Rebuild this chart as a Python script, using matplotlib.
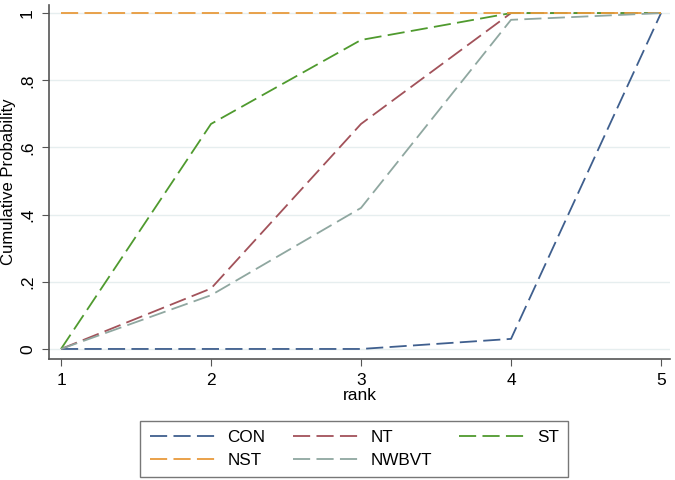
"""Cumulative rank probability curves (Stata-like look)."""

import matplotlib
matplotlib.use("Agg")
import matplotlib.pyplot as plt

plt.rcParams["font.family"] = ["Liberation Sans", "DejaVu Sans"]

rank = [1, 2, 3, 4, 5]
con = [0, 0, 0, 0.03, 1]
nt = [0, 0.18, 0.67, 1, 1]
st = [0, 0.67, 0.92, 1, 1]
nst = [1, 1, 1, 1, 1]
nwbvt = [0, 0.16, 0.42, 0.98, 1]

yticks = [0, 0.2, 0.4, 0.6, 0.8, 1]
ytick_labels = ["0", ".2", ".4", ".6", ".8", "1"]

fig = plt.figure(figsize=(6.75, 4.8), dpi=100)
ax = fig.add_axes([0.0726, 0.252, 0.92, 0.7375])

dash = (0, (9.5, 3.5))
lw = 1.3
l_con, = ax.plot(rank, con, color="#3f5f8e", lw=lw, linestyle=dash, label="CON")
l_nt, = ax.plot(rank, nt, color="#a2525a", lw=lw, linestyle=dash, label="NT")
l_st, = ax.plot(rank, st, color="#4f9a2e", lw=lw, linestyle=dash, label="ST")
l_nst, = ax.plot(rank, nst, color="#e89a3c", lw=lw, linestyle=dash, label="NST")
l_nw, = ax.plot(rank, nwbvt, color="#8fa7a0", lw=lw, linestyle=dash, label="NWBVT")

ax.set_xlim(0.92, 5.06)
ax.set_ylim(-0.03, 1.024)
ax.set_xticks(rank)
ax.set_yticks(yticks)
ax.set_yticklabels(ytick_labels, rotation=90, va="center")
ax.set_xlabel("rank", fontsize=12.5, labelpad=0)
ax.set_ylabel("Cumulative Probability", fontsize=12, labelpad=3)
ax.tick_params(labelsize=12.5, length=5, pad=5, color="#555555", direction="out")
ax.grid(axis="y", color="#e6eeef", lw=1)
ax.set_axisbelow(True)
for s in ["top", "right"]:
    ax.spines[s].set_visible(False)
for s in ["left", "bottom"]:
    ax.spines[s].set_color("#555555")
    ax.spines[s].set_linewidth(1.2)

# Stata fills legend row-wise, matplotlib column-wise
handles = [l_con, l_nst, l_nt, l_nw, l_st]
leg = fig.legend(handles=handles, labels=[h.get_label() for h in handles],
                 ncol=3, loc="lower center", bbox_to_anchor=(0.525, 0.006),
                 borderaxespad=0, fontsize=12.3, frameon=True, fancybox=False,
                 handlelength=3.9, handletextpad=0.65, columnspacing=1.6,
                 labelspacing=0.45, borderpad=0.55)
leg.get_frame().set_edgecolor("#555555")
leg.get_frame().set_linewidth(1.0)

fig.savefig("out.png", dpi=100)
